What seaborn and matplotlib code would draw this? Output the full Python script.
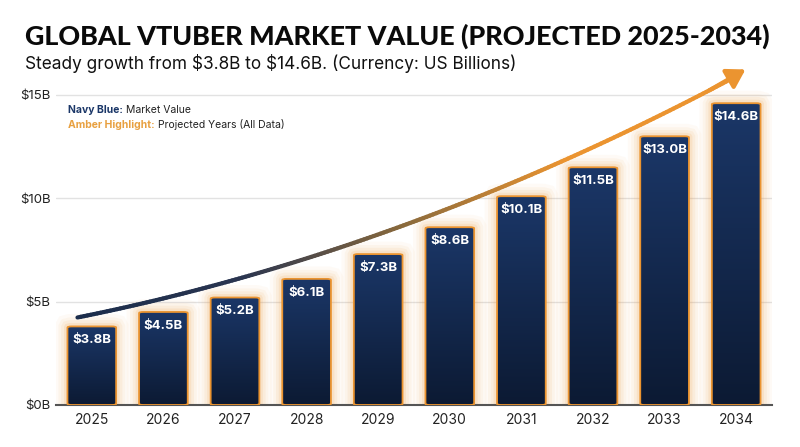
import numpy as np
import matplotlib
matplotlib.use("Agg")
import matplotlib.pyplot as plt
import seaborn as sns
import pandas as pd
from matplotlib.collections import LineCollection
from matplotlib.colors import LinearSegmentedColormap, to_rgba
from matplotlib.patches import FancyBboxPatch

years = ["2025", "2026", "2027", "2028", "2029", "2030", "2031", "2032", "2033", "2034"]
values = [3.8, 4.5, 5.2, 6.1, 7.3, 8.6, 10.1, 11.5, 13.0, 14.6]
y_ticks = [0, 5, 10, 15]
y_tick_labels = ["\\$0B", "\\$5B", "\\$10B", "\\$15B"]

NAVY = "#1b3768"
NAVY_DARK = "#0c1a33"
AMBER = "#eb9430"

sns.set_theme(style="white")
plt.rcParams["font.family"] = ["Inter", "DejaVu Sans"]

df = pd.DataFrame({"year": years, "value": values})

fig = plt.figure(figsize=(8, 4.47), dpi=100)
ax = fig.add_axes([0.07, 0.094, 0.895, 0.763])

sns.barplot(data=df, x="year", y="value", color=NAVY, width=0.68, ax=ax, zorder=3)

ax.set_ylim(0, 16.5)
ax.set_xlim(-0.5, 9.5)
ax.set_yticks(y_ticks)
ax.set_yticklabels(y_tick_labels, fontsize=9.5, color="#222222")
ax.tick_params(axis="x", labelsize=10, colors="#222222", length=0, pad=6)
ax.tick_params(axis="y", length=0, pad=4)
ax.set_xlabel("")
ax.set_ylabel("")
ax.yaxis.grid(True, color="#e2e2e2", linewidth=1, zorder=0)
ax.set_axisbelow(True)
for s in ["left", "right", "top"]:
    ax.spines[s].set_visible(False)
ax.spines["bottom"].set_color("#555555")
ax.spines["bottom"].set_linewidth(1.5)

# gradient fill, glow and rounded bars
cmap = LinearSegmentedColormap.from_list("navy", [NAVY_DARK, NAVY])
grad = np.linspace(0, 1, 256).reshape(-1, 1)
box = dict(boxstyle="round,pad=0,rounding_size=0.06", mutation_aspect=0.9)
bars = list(ax.patches)
for bar, val in zip(bars, values):
    x0, w = bar.get_x(), bar.get_width()
    bar.set_visible(False)
    for lw, a in [(18, 0.04), (13, 0.06), (9, 0.08), (5, 0.12)]:
        ax.add_patch(FancyBboxPatch((x0, 0), w, val, facecolor="none",
                                    edgecolor=to_rgba(AMBER, a), linewidth=lw, zorder=2, **box))
    rb = FancyBboxPatch((x0, 0), w, val, facecolor=NAVY, edgecolor="none", zorder=3, **box)
    ax.add_patch(rb)
    im = ax.imshow(grad, extent=(x0, x0 + w, 0, val), origin="lower", cmap=cmap,
                   aspect="auto", zorder=3.5)
    im.set_clip_path(rb)
    ax.add_patch(FancyBboxPatch((x0, 0), w, val, facecolor="none", edgecolor=AMBER,
                                linewidth=1.3, zorder=3.6, **box))
    ax.text(x0 + w / 2, val - 0.66, f"\\${val:.1f}B", ha="center", va="center",
            color="white", fontsize=9.5, fontweight="bold", zorder=5)
ax.set_xlim(-0.5, 9.5)
ax.set_ylim(0, 16.5)

# trend arrow following the data
idx = np.arange(len(values))
coef = np.polyfit(idx, values, 2)
xs = np.linspace(-0.2, 8.95, 200)
ys = np.polyval(coef, xs) + 0.65 + 0.06 * xs
pts = np.column_stack([xs, ys]).reshape(-1, 1, 2)
segs = np.concatenate([pts[:-1], pts[1:]], axis=1)
arrow_cmap = LinearSegmentedColormap.from_list("arr", ["#1b2d4c", "#2a3550", "#8a6a3c", AMBER, AMBER])
lc = LineCollection(segs, cmap=arrow_cmap, linewidth=3, zorder=6, capstyle="round")
lc.set_array(np.linspace(0, 1, len(segs)))
lc.set_clip_on(False)
ax.add_collection(lc)
ax.annotate("", xy=(xs[-1] + 0.18, ys[-1] + 0.42), xytext=(xs[-8], ys[-8]),
            arrowprops=dict(arrowstyle="-|>,head_length=0.9,head_width=0.55",
                            color=AMBER, lw=3, shrinkA=0, shrinkB=0),
            zorder=7, annotation_clip=False)

# legend text
t1 = ax.text(0.017, 0.865, "Navy Blue:", transform=ax.transAxes, fontsize=7.5,
             fontweight="bold", color=NAVY, va="center")
ax.annotate("Market Value", xy=(1, 0.5), xycoords=t1, xytext=(2, 0),
            textcoords="offset points", fontsize=7.5, color="#222222", va="center")
t2 = ax.text(0.017, 0.822, "Amber Highlight:", transform=ax.transAxes, fontsize=7.5,
             fontweight="bold", color="#e8a040", va="center")
ax.annotate("Projected Years (All Data)", xy=(1, 0.5), xycoords=t2, xytext=(2, 0),
            textcoords="offset points", fontsize=7.5, color="#222222", va="center")

fig.text(0.031, 0.9, "GLOBAL VTUBER MARKET VALUE (PROJECTED 2025-2034)",
         fontsize=19.4, fontweight="black", family=["Lato", "DejaVu Sans"], color="#0a0a0a")
fig.text(0.031, 0.845, "Steady growth from \\$3.8B to \\$14.6B. (Currency: US Billions)",
         fontsize=12.4, color="#111111")

fig.savefig("out.png", dpi=100)
